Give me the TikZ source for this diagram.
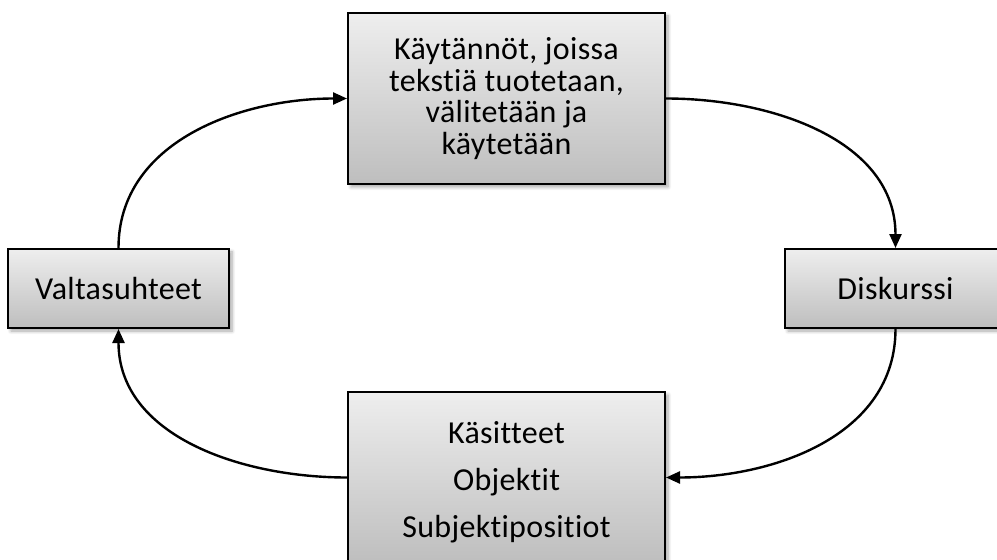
\documentclass[tikz,border=0pt]{standalone}
\usepackage{fontspec}
\setsansfont{Carlito}[Ligatures=NoCommon,LetterSpace=1]
\usetikzlibrary{shadows.blur,arrows.meta}

\definecolor{laatikkoylä}{RGB}{238,238,238}
\definecolor{laatikkoala}{RGB}{190,190,190}

\tikzset{
  laatikko/.style={draw=black,line width=1pt,top color=laatikkoylä,bottom color=laatikkoala,
    blur shadow={shadow xshift=1.5pt,shadow yshift=-1.5pt,shadow blur steps=6,shadow opacity=35},
    align=center,inner sep=0pt,font=\sffamily\fontsize{16}{15.75}\selectfont},
  nuoli/.style={line width=1.2pt,-{Triangle[length=7pt,width=6pt]}}
}

\begin{document}
\begin{tikzpicture}[x=0.5pt,y=0.5pt]
  \useasboundingbox (0,0) rectangle (997,559);

	% Laatikot
	\node[laatikko,minimum width=158.5pt,minimum height=85.5pt] (kaytannot) at (506.5,460.5)
	  {Käytännöt, joissa\\tekstiä tuotetaan,\\välitetään ja\\käytetään};
	\node[laatikko,minimum width=110.5pt,minimum height=39.5pt] (valta) at (118.5,270.5) {Valtasuhteet};
	\node[laatikko,minimum width=110.5pt,minimum height=39.5pt] (diskurssi) at (895.5,270.5) {Diskurssi};
	\node[laatikko,minimum width=158.5pt,minimum height=85.5pt] (kasitteet) at (506.5,81.5)
	  {\rule{0pt}{16pt}Käsitteet\\[7.75pt]Objektit\\[7.75pt]Subjektipositiot};

	% Nuolet
	\draw[nuoli] (valta.north) to[out=90,in=180] (kaytannot.west);
	\draw[nuoli] (kaytannot.east) to[out=0,in=90] (diskurssi.north);
	\draw[nuoli] (diskurssi.south) to[out=-90,in=0] (kasitteet.east);
	\draw[nuoli] (kasitteet.west) to[out=180,in=-90] (valta.south);
\end{tikzpicture}
\end{document}
